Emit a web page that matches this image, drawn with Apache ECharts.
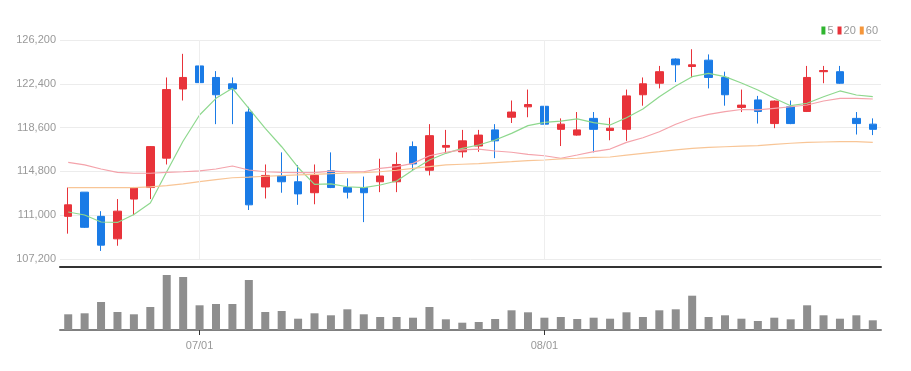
<!DOCTYPE html>
<html>
<head>
<meta charset="utf-8">
<script src="https://cdn.jsdelivr.net/npm/echarts@6/dist/echarts.min.js"></script>
<style>
html,body{margin:0;padding:0;background:#fff;}
#chart{width:911px;height:371px;}
</style>
</head>
<body>
<div id="chart"></div>
<script>
const dates = [
  '06/21','06/22','06/23','06/24','06/27','06/28','06/29','06/30',
  '07/01','07/04','07/05','07/06','07/07','07/08','07/11','07/12','07/13','07/14','07/15',
  '07/18','07/19','07/20','07/21','07/22','07/25','07/26','07/27','07/28','07/29',
  '08/01','08/02','08/03','08/04','08/05','08/08','08/09','08/10','08/11','08/12',
  '08/16','08/17','08/18','08/19','08/22','08/23','08/24','08/25','08/26','08/29','08/30'
];
const openP = [110900,113000,110900,108950,112400,113400,115950,121950,123950,122950,
  122400,119950,113450,114400,113900,112950,114850,113400,113400,113900,
  113900,116950,114900,116900,116500,117000,118400,119500,120400,120450,
  118450,117950,119400,118350,118450,121450,122450,124550,123900,124450,
  122950,120350,121000,118950,120400,120000,123450,123450,119400,118900];
const closeP = [111900,109950,108400,111350,113400,116950,121900,122950,122500,121450,
  121950,111900,114450,113900,112850,114450,113400,113000,112950,114400,
  115400,115450,117900,117050,117450,117950,117450,119950,120600,118900,
  118900,118400,118450,118550,121350,122400,123450,124050,124050,122950,
  121450,120550,120000,120900,118950,122950,123550,122450,118950,118450];
const lowP = [109400,109900,107900,108350,111000,112400,115400,120950,121500,118900,
  118900,111450,112450,112950,111900,111950,113350,112450,110400,113000,
  113000,114900,114450,116350,116000,116500,115950,119000,119500,118000,
  117000,117900,116450,117500,117450,120500,122000,122550,122950,122000,
  120500,119950,118950,118550,118900,119950,122450,122400,118000,117950];
const highP = [113400,113000,111350,112400,113450,117000,122950,125000,124450,123500,
  122950,120400,115400,116450,115350,115400,116450,114200,114350,115900,
  116450,117400,118900,118400,118400,118400,118900,120950,121900,120500,
  119400,119950,119950,119450,121900,122950,123950,124600,125400,124950,
  123450,121900,121350,120950,120950,123950,123950,123950,119950,119400];
const ma5 = [111280,111020,110410,110370,111060,112060,114770,117440,119690,121140,
  122010,120270,118540,116940,115140,113680,113710,113470,113390,113620,
  113970,114920,115790,116370,116800,117090,117520,118100,118770,119060,
  119170,119350,119030,118830,119460,120210,121280,122210,123020,123310,
  123020,122470,121860,121140,120500,120710,121280,121780,121430,121280];
const ma20 = [115590,115360,115010,114720,114640,114640,114720,114770,114850,115010,
  115270,114920,114770,114720,114690,114690,114830,114770,114770,115070,
  115210,115500,116160,116460,116660,116740,116570,116460,116280,116160,
  115940,116220,116510,116740,117320,117720,118240,118890,119410,119750,
  119980,120170,120130,120270,120410,120560,120910,121140,121140,121080];
const ma60 = [113390,113390,113390,113390,113390,113450,113560,113710,113910,114080,
  114250,114310,114380,114430,114490,114550,114600,114660,114690,114770,
  114900,115070,115210,115360,115420,115470,115560,115640,115730,115790,
  115880,115940,116020,116050,116220,116370,116510,116660,116800,116890,
  116940,116990,117030,117150,117240,117320,117350,117380,117380,117320];
const volumes = [157000,167000,280000,180000,157000,230000,550000,530000,247000,260000,
  260000,500000,180000,190000,113000,167000,147000,207000,157000,130000,
  130000,123000,230000,107000,73000,80000,110000,197000,177000,123000,
  130000,110000,123000,113000,177000,130000,197000,207000,343000,130000,
  147000,113000,90000,123000,107000,247000,147000,113000,147000,97000];
const monthMarks = ['07/01','08/01'];

const kData = dates.map((d, i) => [openP[i], closeP[i], lowP[i], highP[i]]);
const FONT = '"Liberation Sans Narrow", "Liberation Sans", sans-serif';
const isMonthStart = (idx, val) => monthMarks.indexOf(val) >= 0;

const chart = echarts.init(document.getElementById('chart'));
chart.setOption({
  animation: false,
  backgroundColor: '#fff',
  legend: {
    right: 28, top: 20,
    icon: 'rect', itemWidth: 4, itemHeight: 8, itemGap: 4,
    textStyle: { fontSize: 11, color: '#999', fontFamily: FONT, padding: [0, 0, 0, -3] },
    data: [
      { name: '5', itemStyle: { color: '#2fb52f' } },
      { name: '20', itemStyle: { color: '#e8333a' } },
      { name: '60', itemStyle: { color: '#f5963a' } }
    ]
  },
  grid: [
    { left: 60, right: 30, top: 40, height: 219 },
    { left: 60, right: 30, top: 270, bottom: 41 }
  ],
  xAxis: [
    {
      type: 'category', gridIndex: 0, data: dates, boundaryGap: true, offset: 8,
      axisLine: { show: true, lineStyle: { color: '#333', width: 2 } },
      axisTick: { show: false }, axisLabel: { show: false }, splitLine: { show: false }
    },
    {
      type: 'category', gridIndex: 1, data: dates, boundaryGap: true,
      axisLine: { show: true, lineStyle: { color: '#808080', width: 2 } },
      axisTick: { show: true, alignWithLabel: true, interval: isMonthStart, length: 5, lineStyle: { color: '#333' } },
      axisLabel: { interval: isMonthStart, color: '#999', fontSize: 11, fontFamily: FONT, margin: 10 },
      splitLine: { show: false }
    }
  ],
  yAxis: [
    {
      type: 'value', gridIndex: 0, min: 107200, max: 126200, interval: 3800,
      axisLine: { show: false }, axisTick: { show: false },
      axisLabel: { color: '#999', fontSize: 11, fontFamily: FONT, margin: 4,
        formatter: v => v.toLocaleString('en-US') },
      splitLine: { lineStyle: { color: '#ececec' } }
    },
    {
      type: 'value', gridIndex: 1, min: 0, max: 600000, show: false,
      splitLine: { show: false }
    }
  ],
  series: [
    {
      name: 'K', type: 'candlestick', xAxisIndex: 0, yAxisIndex: 0, data: kData,
      barWidth: 8,
      itemStyle: { color: '#e8333a', color0: '#1a7be6', borderColor: '#e8333a', borderColor0: '#1a7be6', borderWidth: 1 },
      markLine: {
        silent: true, symbol: 'none', label: { show: false },
        lineStyle: { color: '#eeeeee', type: 'solid', width: 1 },
        data: monthMarks.map(m => ({ xAxis: m }))
      }
    },
    {
      name: '5', type: 'line', xAxisIndex: 0, yAxisIndex: 0, data: ma5,
      showSymbol: false, itemStyle: { color: '#2fb52f' },
      lineStyle: { color: '#8ed88e', width: 1.2 }
    },
    {
      name: '20', type: 'line', xAxisIndex: 0, yAxisIndex: 0, data: ma20,
      showSymbol: false, itemStyle: { color: '#e8333a' },
      lineStyle: { color: '#f4a3ab', width: 1.2 }
    },
    {
      name: '60', type: 'line', xAxisIndex: 0, yAxisIndex: 0, data: ma60,
      showSymbol: false, itemStyle: { color: '#f5963a' },
      lineStyle: { color: '#f8c596', width: 1.2 }
    },
    {
      name: 'Volume', type: 'bar', xAxisIndex: 1, yAxisIndex: 1, data: volumes,
      barWidth: 8, itemStyle: { color: '#8e8e8e' }
    }
  ]
});
</script>
</body>
</html>
